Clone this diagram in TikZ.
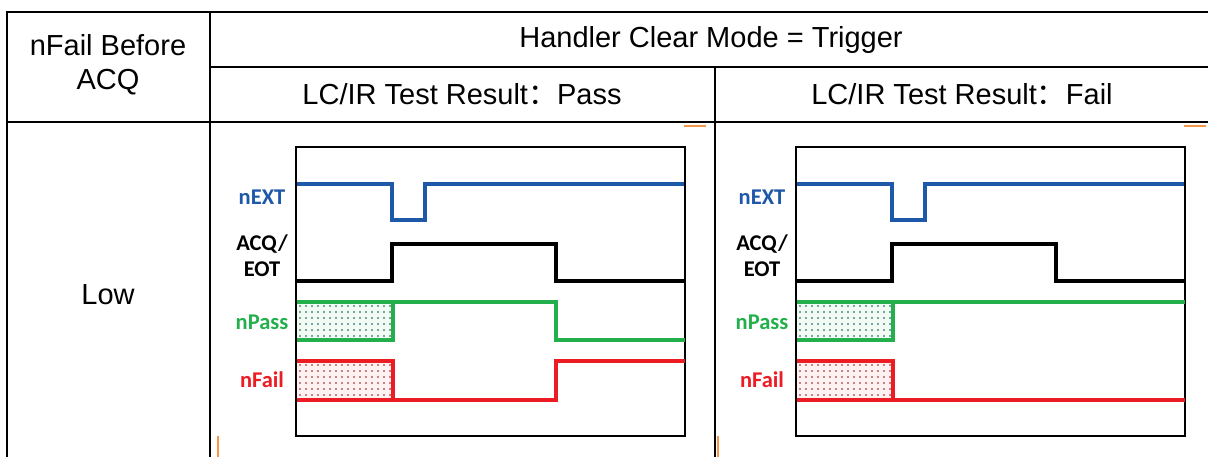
\documentclass[tikz,border=0pt]{standalone}
\usepackage{fontspec}
\setmainfont{Liberation Sans}
\newfontfamily\cjk{Noto Sans CJK SC}
\newfontfamily\lblfont{Carlito}
\definecolor{sigblue}{RGB}{30,88,168}
\definecolor{siggreen}{RGB}{35,176,76}
\definecolor{sigred}{RGB}{236,28,36}
\definecolor{tickorange}{RGB}{247,150,70}

\begin{document}
\begin{tikzpicture}[x=1pt,y=-1pt,
	grid/.style={line width=2.2pt},
	wave/.style={line width=3.8pt,line join=miter},
	head/.style={font=\fontsize{29}{34}\selectfont,align=center},
	sig/.style={font=\lblfont\bfseries\fontsize{22.5}{26}\selectfont,align=center}]
\useasboundingbox (0,0) rectangle (1208,457);
% table
\draw[grid] (7,457)--(7,12)--(1208,12) (210,12)--(210,457) (210,67)--(1208,67) (715,67)--(715,457) (7,122)--(1208,122);
\node[head] (mode) at (711,40) {Handler Clear Mode = Trigger};
\node[head] (before) at (108,65) {nFail Before\\ACQ};
\node[head] (pass) at (462,94) {LC/IR Test Result{\cjk ：}Pass};
\node[head] (fail) at (962,94) {LC/IR Test Result{\cjk ：}Fail};
\node[head] (low) at (108,295) {Low};
% both panels
\foreach \dx in {0,500}{
	\begin{scope}[xshift=\dx pt]
		\fill[siggreen!6] (296,302) rectangle (393,340);
		\fill[sigred!6] (296,361) rectangle (393,400);
		\foreach \i in {300,306,...,390}{\foreach \j in {306,312,...,336}{\fill[teal!60!black] (\i,\j) circle (0.85pt);}}
		\foreach \i in {300,306,...,390}{\foreach \j in {365,371,...,396}{\fill[sigred!60!black] (\i,\j) circle (0.85pt);}}
		\draw[wave,sigblue] (296,184)--(392,184)--(392,220)--(425,220)--(425,184)--(685,184);
		\draw[wave] (296,281)--(392,281)--(392,244)--(556,244)--(556,281)--(685,281);
		\draw[wave,siggreen] (296,302)--(393,302) (296,340)--(393,340)--(393,302);
		\draw[wave,sigred] (296,361)--(393,361)--(393,400) (296,400)--(393,400);
		\draw[line width=2.4pt] (296,147) rectangle (685,436);
		\node[sig,sigblue] at (262,197) {nEXT};
		\node[sig] at (262,256) {ACQ/\\EOT};
		\node[sig,siggreen] at (262,322) {nPass};
		\node[sig,sigred] at (262,380) {nFail};
		\draw[line width=2.2pt,tickorange] (684,126)--(706,126) (218,436)--(218,457);
	\end{scope}}
% pass
\draw[wave,siggreen] (393,302)--(556,302)--(556,340)--(685,340);
\draw[wave,sigred] (393,400)--(556,400)--(556,361)--(685,361);
% fail
\draw[wave,siggreen] (893,302)--(1185,302);
\draw[wave,sigred] (893,400)--(1185,400);
\end{tikzpicture}
\end{document}
